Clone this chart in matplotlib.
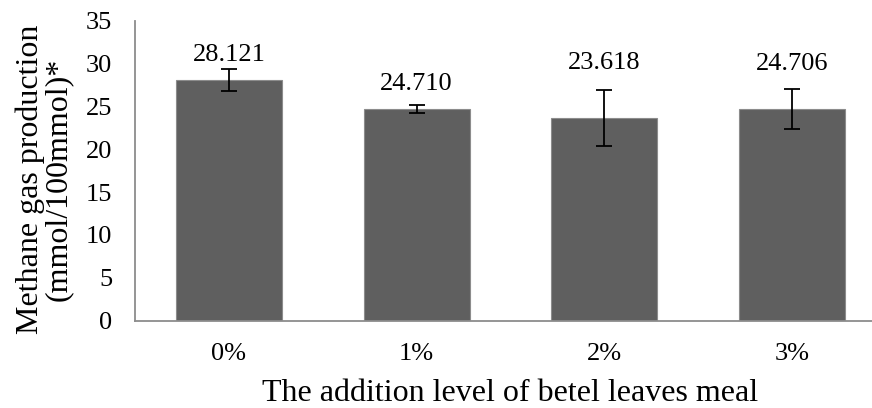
import matplotlib.pyplot as plt
import numpy as np

BAR_COLOR = "#5f5f5f"
EDGE_COLOR = "#8c8c8c"
SPINE_COLOR = "#8c8c8c"
FONT = "Liberation Serif"

levels = ["0%", "1%", "2%", "3%"]
methane = [28.121, 24.710, 23.618, 24.706]
methane_sd = [1.3, 0.45, 3.25, 2.3]
value_labels = ["28.121", "24.710", "23.618", "24.706"]

# extra gap (points) between error bar top and value label, as in the original
label_gaps = [2, 7.5, 11.5, 10.5]


def plot():
    plt.rcParams["font.family"] = FONT
    fig = plt.figure(figsize=(8.72, 4.08), dpi=100, facecolor="white")
    # right edge of the original axis is cut off by the image border
    ax = fig.add_axes([135 / 872, 1 - 320.7 / 408, 751 / 872, 300 / 408])

    x = np.arange(len(levels))
    ax.bar(x, methane, width=0.565, color=BAR_COLOR, edgecolor=EDGE_COLOR, linewidth=0.8, zorder=2)
    ax.errorbar(x, methane, yerr=methane_sd, fmt="none", ecolor="black",
                elinewidth=1.3, capsize=6, capthick=1.3, zorder=3)

    for xi, m, s, lab, g in zip(x, methane, methane_sd, value_labels, label_gaps):
        ax.annotate(lab, (xi, m + s), xytext=(0, g), textcoords="offset points",
                    ha="center", va="bottom", fontsize=19)

    ax.set_xlim(-0.5, 3.5)
    ax.set_ylim(0, 35)
    ax.set_yticks(np.arange(0, 36, 5))
    ax.set_xticks(x)
    ax.set_xticklabels(levels)
    ax.tick_params(axis="both", length=0, labelsize=19)
    ax.tick_params(axis="x", pad=16)
    ax.tick_params(axis="y", pad=16.5)

    for side in ["top", "right"]:
        ax.spines[side].set_visible(False)
    for side in ["left", "bottom"]:
        ax.spines[side].set_color(SPINE_COLOR)
        ax.spines[side].set_linewidth(1.3)

    ax.set_xlabel("The addition level of betel leaves meal", fontsize=23, labelpad=10)
    ax.set_ylabel("Methane gas production\n(mmol/100mmol)*", fontsize=23, labelpad=9.5,
                  linespacing=0.95, y=0.472)

    fig.savefig("out.png", dpi=100, facecolor="white")


if __name__ == "__main__":
    plot()
